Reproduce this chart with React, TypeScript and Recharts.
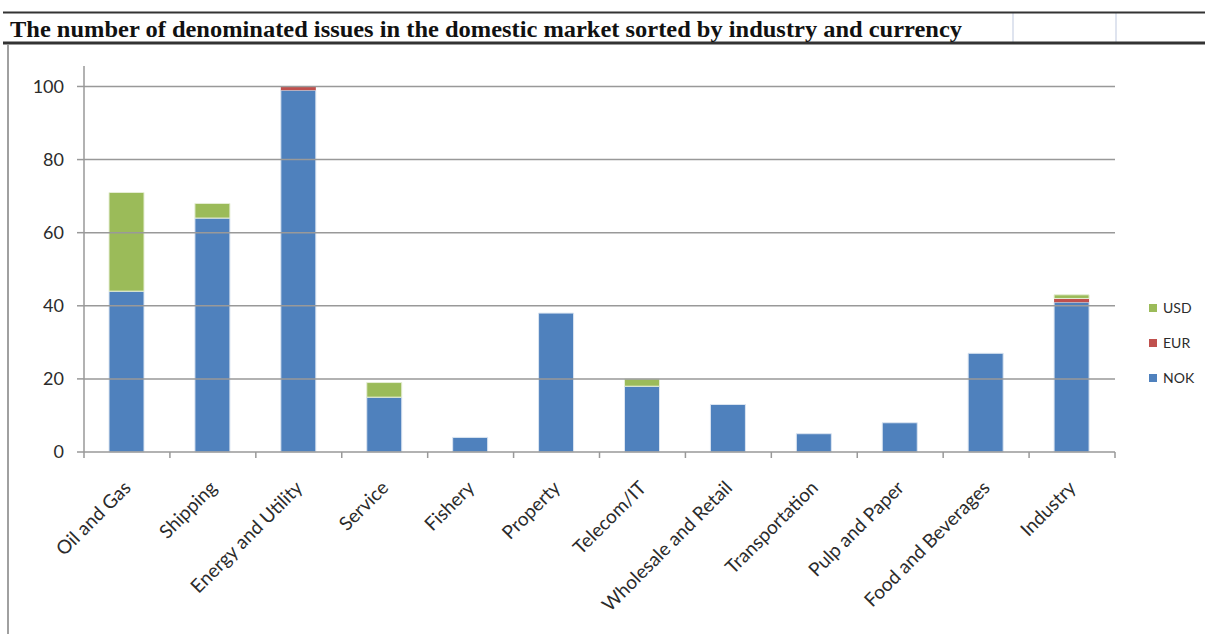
import React from "react";
import { BarChart, Bar, XAxis, YAxis, ReferenceLine } from "recharts";

const categories = [
  "Oil and Gas",
  "Shipping",
  "Energy and Utility",
  "Service",
  "Fishery",
  "Property",
  "Telecom/IT",
  "Wholesale and Retail",
  "Transportation",
  "Pulp and Paper",
  "Food and Beverages",
  "Industry",
];
const nokValues = [44, 64, 99, 15, 4, 38, 18, 13, 5, 8, 27, 41];
const eurValues = [0, 0, 1, 0, 0, 0, 0, 0, 0, 0, 0, 1];
const usdValues = [27, 4, 0, 4, 0, 0, 2, 0, 0, 0, 0, 1];
const yTicks = [0, 20, 40, 60, 80, 100];

const chartTitle =
  "The number of denominated issues in the domestic market sorted by industry and currency";

const colors = { NOK: "#4F81BD", EUR: "#C0504D", USD: "#9BBB59" };
const legendItems = [
  { name: "USD", color: colors.USD },
  { name: "EUR", color: colors.EUR },
  { name: "NOK", color: colors.NOK },
];

const data = categories.map((name, i) => ({
  name,
  NOK: nokValues[i],
  EUR: eurValues[i],
  USD: usdValues[i],
}));

const W = 1205;
const H = 634;
const margin = { top: 66, right: 90, left: 24, bottom: 62 };
const plotWidth = W - margin.left - 60 - margin.right;
const band = plotWidth / categories.length;
const axisFont = "Lato, 'Open Sans', sans-serif";
const gridColor = "#999";

const CategoryTick = (props: any) => {
  const { x, y, payload, index } = props;
  const left = x - band / 2;
  return (
    <g>
      <line x1={left} y1={y} x2={left} y2={y + 6} stroke={gridColor} strokeWidth={1.5} />
      {index === categories.length - 1 && (
        <line x1={x + band / 2} y1={y} x2={x + band / 2} y2={y + 6} stroke={gridColor} strokeWidth={1.5} />
      )}
      <g transform={`translate(${x + 5},${y + 37})`}>
        <text
          transform="rotate(-45)"
          textAnchor="end"
          fill="#2b2b2b"
          fontSize={19}
          fontFamily={axisFont}
        >
          {payload.value}
        </text>
      </g>
    </g>
  );
};

export default function App() {
  return (
    <div style={{ position: "absolute", left: 0, top: 0, width: W, height: H, background: "#fff" }}>
      <svg width={W} height={46} style={{ position: "absolute", left: 0, top: 0 }}>
        <line x1={1013} y1={13} x2={1013} y2={42} stroke="#d4dbea" strokeWidth={1.5} />
        <line x1={1116} y1={13} x2={1116} y2={42} stroke="#d4dbea" strokeWidth={1.5} />
        <line x1={3} y1={12.5} x2={W} y2={12.5} stroke="#333" strokeWidth={2} />
        <line x1={3} y1={43} x2={W} y2={43} stroke="#333" strokeWidth={3} />
        <text
          x={10}
          y={37}
          fontFamily="'Liberation Serif', 'DejaVu Serif', serif"
          fontWeight="bold"
          fontSize={24}
          fill="#111"
          textLength={952}
          lengthAdjust="spacingAndGlyphs"
        >
          {chartTitle}
        </text>
      </svg>
      <svg width={W} height={H} style={{ position: "absolute", left: 0, top: 0, pointerEvents: "none" }}>
        <line x1={8} y1={45} x2={8} y2={H} stroke="#808080" strokeWidth={1.5} />
      </svg>
      <div style={{ position: "absolute", left: 0, top: 0 }}>
        <BarChart width={W} height={H} data={data} margin={margin} barSize={35}>
          {yTicks.slice(1).map((t) => (
            <ReferenceLine key={t} y={t} stroke={gridColor} strokeWidth={1.5} />
          ))}
          <XAxis
            dataKey="name"
            interval={0}
            height={120}
            tickSize={0}
            tickMargin={0}
            tickLine={false}
            axisLine={{ stroke: gridColor, strokeWidth: 1.5 }}
            tick={<CategoryTick />}
          />
          <YAxis
            width={60}
            domain={[0, 105.6]}
            ticks={yTicks}
            interval={0}
            tickSize={7}
            tickMargin={13}
            axisLine={{ stroke: gridColor, strokeWidth: 1.5 }}
            tickLine={{ stroke: gridColor, strokeWidth: 1.5 }}
            tick={{ fill: "#2b2b2b", fontSize: 18, fontFamily: axisFont }}
          />
          <Bar dataKey="NOK" stackId="a" fill={colors.NOK} stroke="#dbe5f1" strokeWidth={1} isAnimationActive={false} />
          <Bar dataKey="EUR" stackId="a" fill={colors.EUR} isAnimationActive={false} />
          <Bar dataKey="USD" stackId="a" fill={colors.USD} stroke="#e6eed5" strokeWidth={1} isAnimationActive={false} />
        </BarChart>
      </div>
      {legendItems.map((item, i) => (
        <div
          key={item.name}
          style={{
            position: "absolute",
            left: 1149,
            top: 299 + i * 35,
            display: "flex",
            alignItems: "center",
            fontFamily: axisFont,
            fontSize: 14,
            color: "#2b2b2b",
          }}
        >
          <span style={{ width: 8, height: 8, background: item.color, marginRight: 6, display: "inline-block" }} />
          {item.name}
        </div>
      ))}
    </div>
  );
}
